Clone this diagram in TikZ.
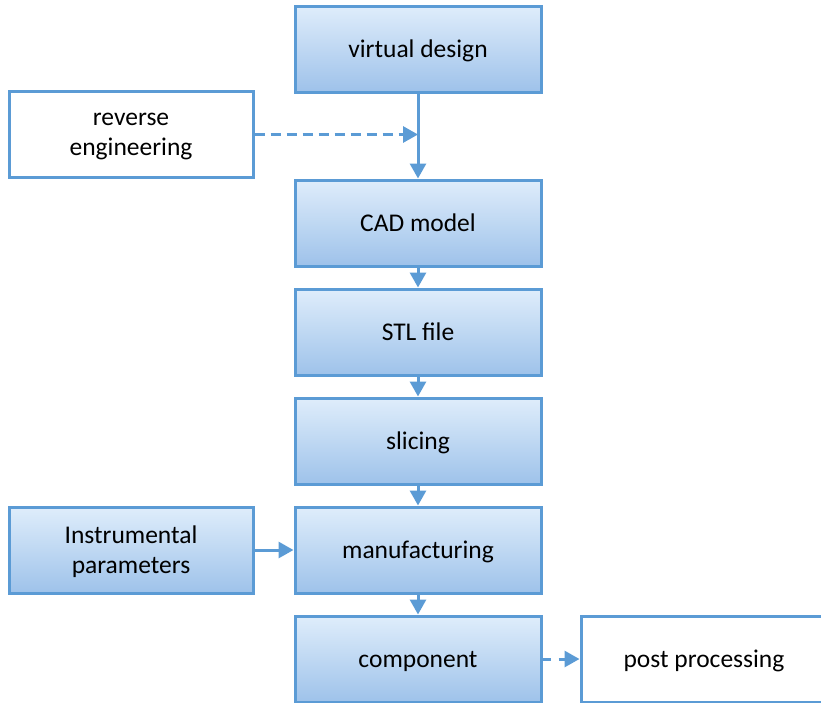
\documentclass[tikz,border=0pt]{standalone}
\usepackage{fontspec}
\setmainfont{Carlito}
\usetikzlibrary{arrows.meta}
\definecolor{bord}{RGB}{91,155,213}
\definecolor{gtop}{RGB}{223,237,251}
\definecolor{gmid}{RGB}{174,204,238}
\definecolor{gbot}{RGB}{158,194,234}
\begin{document}
\begin{tikzpicture}[x=1pt,y=-1pt,
  box/.style={draw=bord, line width=3pt, minimum width=246pt, minimum height=86pt,
    inner sep=0pt, align=center, text depth=-5pt, font=\fontsize{25.5}{30}\selectfont},
  bluebox/.style={box, top color=gtop, middle color=gmid, bottom color=gbot},
  whitebox/.style={box, fill=white},
  flow/.style={draw=bord, line width=3pt, -{Triangle[length=15pt,width=16pt]}},
  dflow/.style={flow, dash pattern=on 10pt off 6pt}]
\useasboundingbox (0,0) rectangle (821,702);
\clip (0,0) rectangle (821,702);
\node[bluebox] (vd) at (418,49) {virtual design};
\node[whitebox, minimum width=244pt] (re) at (131,134.5) {reverse\\engineering};
\node[bluebox] (cad) at (418,223) {CAD model};
\node[bluebox] (stl) at (418,332) {STL file};
\node[bluebox] (sl) at (418,441) {slicing};
\node[bluebox] (mf) at (418,550) {manufacturing};
\node[bluebox, minimum width=244pt] (ip) at (131,550) {Instrumental\\parameters};
\node[bluebox] (co) at (418,659) {component};
\node[whitebox] (pp) at (704,659) {post processing};
\coordinate (j) at (418,134.5);
\draw[flow] (vd.south) -- (cad.north);
\draw[dflow] (re.east) -- (j);
\draw[flow] (cad.south) -- (stl.north);
\draw[flow] (stl.south) -- (sl.north);
\draw[flow] (sl.south) -- (mf.north);
\draw[flow] (ip.east) -- (mf.west);
\draw[flow] (mf.south) -- (co.north);
\draw[flow, dash pattern=on 8pt off 8pt] (co.east) -- (pp.west);
\end{tikzpicture}
\end{document}
